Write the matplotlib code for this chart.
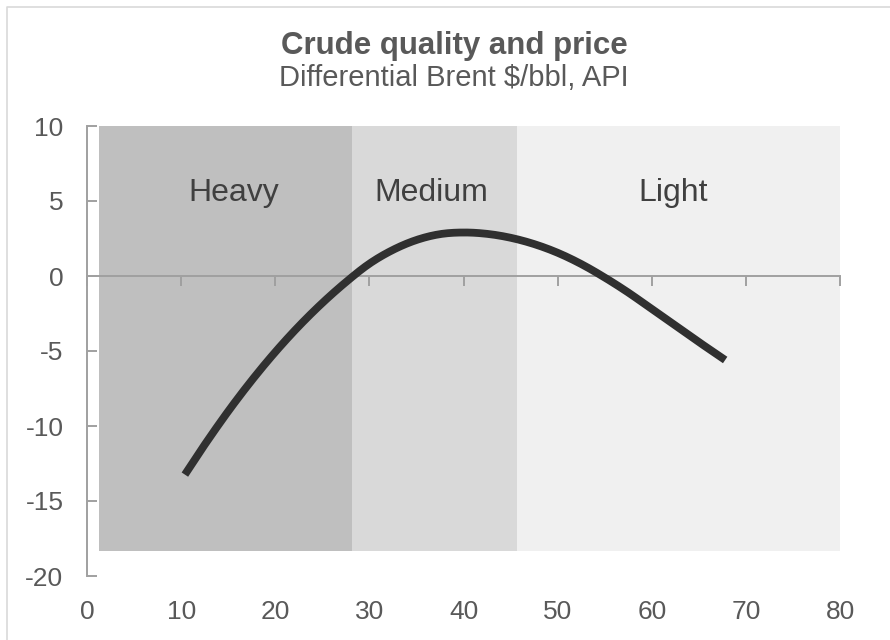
import numpy as np
import matplotlib.pyplot as plt
from matplotlib.lines import Line2D

plt.rcParams["font.family"] = ["Liberation Sans", "DejaVu Sans"]
plt.rcParams["axes.unicode_minus"] = False

# Data
band_names = ["Heavy", "Medium", "Light"]
band_edges = [1.3, 28.2, 45.7, 80.0]
band_label_x = [15.6, 36.6, 62.3]
band_bottom = -18.3
band_top = 10.0
band_colors = ["#bfbfbf", "#d9d9d9", "#f0f0f0"]

api = [10.4, 12.5, 15.0, 17.5, 20.0, 22.5, 25.0, 27.5, 30.0, 32.5, 35.0, 37.5,
       40.0, 42.5, 45.0, 47.5, 50.0, 52.5, 55.0, 57.5, 60.0, 62.5, 65.0, 67.8]
diff = [-13.24, -11.25, -9.02, -6.96, -5.07, -3.35, -1.80, -0.41, 0.82, 1.74,
        2.40, 2.79, 2.90, 2.81, 2.55, 2.13, 1.55, 0.80, -0.10, -1.10, -2.20,
        -3.30, -4.40, -5.60]

xticks = [0, 10, 20, 30, 40, 50, 60, 70, 80]
yticks = [-20, -15, -10, -5, 0, 5, 10]

axis_col = "#a0a0a0"
text_col = "#595959"


def smooth(xs, ys, n=12):
    # Catmull-Rom pass through the read points, like a smoothed Excel line
    p = np.column_stack([xs, ys])
    p = np.vstack([p[0], p, p[-1]])
    out = []
    t = np.linspace(0, 1, n, endpoint=False)[:, None]
    for i in range(1, len(p) - 2):
        p0, p1, p2, p3 = p[i - 1], p[i], p[i + 1], p[i + 2]
        seg = 0.5 * ((2 * p1) + (-p0 + p2) * t + (2 * p0 - 5 * p1 + 4 * p2 - p3) * t ** 2
                     + (-p0 + 3 * p1 - 3 * p2 + p3) * t ** 3)
        out.append(seg)
    out.append(p[-2][None, :])
    out = np.vstack(out)
    return out[:, 0], out[:, 1]


fig = plt.figure(figsize=(8.9, 6.4), dpi=100)
ax = fig.add_axes([87 / 890, 1 - 576 / 640, (840 - 87) / 890, 450 / 640])

# Shaded quality bands
for name, lx, x0, x1, c in zip(band_names, band_label_x, band_edges[:-1],
                               band_edges[1:], band_colors):
    ax.fill_between([x0, x1], band_bottom, band_top, color=c, lw=0, zorder=0)
    ax.text(lx, 5.0, name, ha="center", va="baseline",
            fontsize=23, color="#404040", zorder=3)

sx, sy = smooth(api, diff)
ax.plot(sx, sy, color="#303030", lw=5.6, solid_capstyle="butt", zorder=4)

ax.set_xlim(0, 80)
ax.set_ylim(-20, 10)

# x axis line through zero with ticks pointing down
for s in ["top", "right"]:
    ax.spines[s].set_visible(False)
ax.spines["bottom"].set_position(("data", 0))
for s in ["bottom", "left"]:
    ax.spines[s].set_color(axis_col)
    ax.spines[s].set_linewidth(1.4)
ax.spines["bottom"].set_zorder(2)
ax.set_xticks(xticks)
ax.tick_params(axis="x", direction="out", length=7, width=1.4, color=axis_col,
               labelbottom=False)
ax.set_yticks(yticks)
ax.tick_params(axis="y", direction="in", length=7, width=1.4, color=axis_col,
               labelsize=19, labelcolor=text_col, pad=17)

# x labels at the bottom of the plot
sec = ax.secondary_xaxis("bottom")
sec.set_xticks(xticks)
sec.tick_params(length=0, labelsize=19, labelcolor=text_col, pad=17)
sec.spines["bottom"].set_visible(False)

# Titles
fig.text(454 / 890, 1 - 54 / 640, "Crude quality and price", ha="center",
         va="baseline", fontsize=22.5, fontweight="bold", color=text_col)
fig.text(454 / 890, 1 - 86 / 640, "Differential Brent $/bbl, API", ha="center",
         va="baseline", fontsize=21, color=text_col)

# Chart border
fig.add_artist(Line2D([7 / 890, 7 / 890, 1], [0, 1 - 7 / 640, 1 - 7 / 640],
                      color="#d9d9d9", lw=1.2, transform=fig.transFigure))

fig.savefig("out.png", dpi=100)
